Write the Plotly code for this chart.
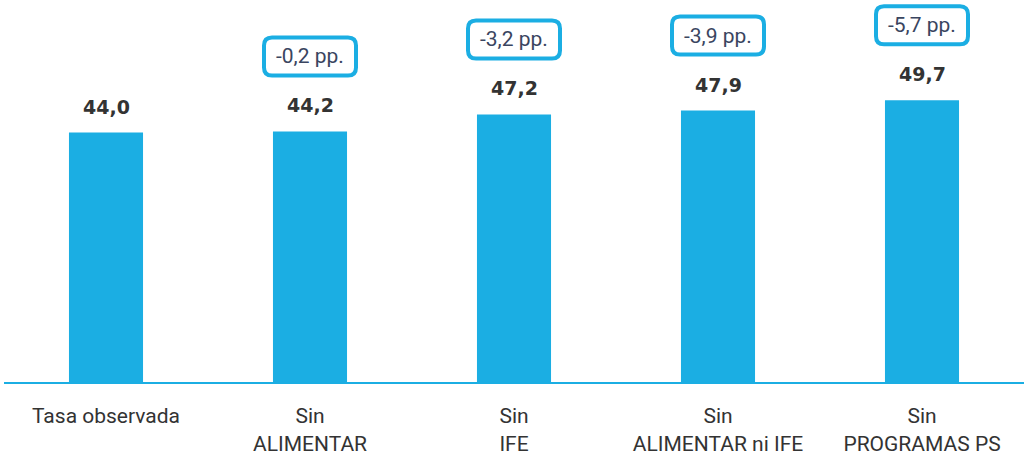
import plotly.graph_objects as go

categories = ["Tasa observada", "Sin<br>ALIMENTAR", "Sin<br>IFE", "Sin<br>ALIMENTAR ni IFE", "Sin<br>PROGRAMAS PS"]
values = [44.0, 44.2, 47.2, 47.9, 49.7]
value_labels = ["44,0", "44,2", "47,2", "47,9", "49,7"]
diff_labels = ["", "-0,2 pp.", "-3,2 pp.", "-3,9 pp.", "-5,7 pp."]

BLUE = "#1BAEE3"
W, H = 1026, 456

fig = go.Figure()
fig.add_trace(go.Bar(
    x=list(range(len(categories))), y=values,
    marker=dict(color=BLUE, line=dict(width=0)),
    hoverinfo="skip",
))

# value labels
for i, (v, t) in enumerate(zip(values, value_labels)):
    fig.add_annotation(x=i, y=v, text=t, showarrow=False, yanchor="middle", yshift=26,
                       font=dict(family="DejaVu Sans", size=19, color="#333333", weight="bold"))

# boxed difference labels
hw, hh, r, c = 46, 19, 8, 75
path = (f"M {-hw+r},{c-hh} L {hw-r},{c-hh} Q {hw},{c-hh} {hw},{c-hh+r} "
        f"L {hw},{c+hh-r} Q {hw},{c+hh} {hw-r},{c+hh} L {-hw+r},{c+hh} "
        f"Q {-hw},{c+hh} {-hw},{c+hh-r} L {-hw},{c-hh+r} Q {-hw},{c-hh} {-hw+r},{c-hh} Z")
for i, (v, t) in enumerate(zip(values, diff_labels)):
    if not t:
        continue
    fig.add_shape(type="path", xref="x", yref="y", xsizemode="pixel", ysizemode="pixel",
                  xanchor=i, yanchor=v, path=path,
                  line=dict(color=BLUE, width=4), fillcolor="white", layer="above")
    fig.add_annotation(x=i, y=v, text=t, showarrow=False, yanchor="middle", yshift=c,
                       font=dict(family="Roboto", size=21, color="#3A4560"))

fig.update_layout(
    width=W, height=H,
    margin=dict(l=4, r=2, t=0, b=72),
    plot_bgcolor="white", paper_bgcolor="white",
    showlegend=False, bargap=0.637,
    xaxis=dict(tickmode="array", tickvals=list(range(len(categories))), ticktext=categories,
               showline=True, linecolor=BLUE, linewidth=2, showgrid=False, zeroline=False,
               ticks="outside", ticklen=14, tickcolor="rgba(0,0,0,0)",
               tickfont=dict(family="Roboto", size=21, color="#333333"),
               range=[-0.5, 4.5], fixedrange=True),
    yaxis=dict(range=[0, 67.4], visible=False, fixedrange=True),
)

fig.write_html("out.html", config={"displayModeBar": False},
               post_script="document.body.style.margin='0';document.body.style.overflow='hidden';")
